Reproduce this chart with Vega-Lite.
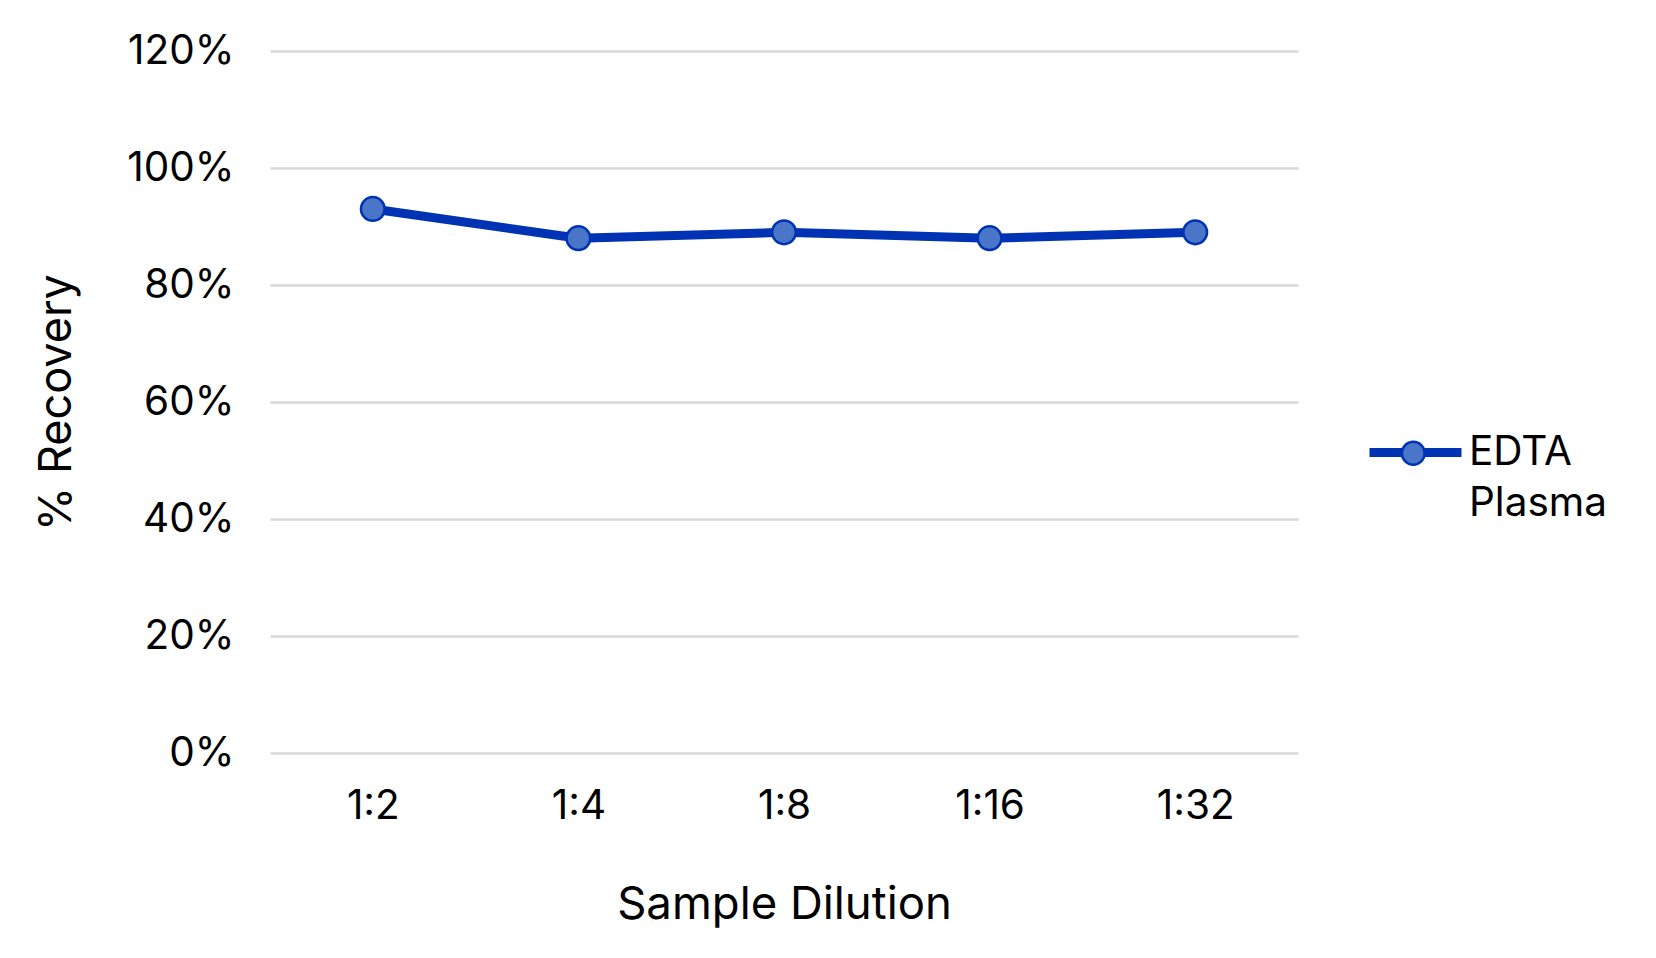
{
  "$schema": "https://vega.github.io/schema/vega-lite/v6.json",
  "width": 1028,
  "height": 702,
  "autosize": {"type": "none"},
  "padding": {"left": 270, "top": 51, "right": 358, "bottom": 205},
  "background": "white",
  "config": {
    "font": "Inter",
    "view": {"stroke": null},
    "axis": {"labelFont": "Inter", "titleFont": "Inter", "labelColor": "#000000", "titleColor": "#000000", "titleFontWeight": "normal"}
  },
  "data": {
    "values": [
      {"dilution": "1:2", "recovery": 0.93, "series": "EDTA Plasma"},
      {"dilution": "1:4", "recovery": 0.88, "series": "EDTA Plasma"},
      {"dilution": "1:8", "recovery": 0.89, "series": "EDTA Plasma"},
      {"dilution": "1:16", "recovery": 0.88, "series": "EDTA Plasma"},
      {"dilution": "1:32", "recovery": 0.89, "series": "EDTA Plasma"}
    ]
  },
  "encoding": {
    "x": {
      "field": "dilution", "type": "ordinal", "sort": null,
      "scale": {"type": "point", "padding": 0.5},
      "axis": {
        "title": "Sample Dilution", "labelAngle": 0, "domain": false, "ticks": false, "grid": false,
        "labelFontSize": 40.5, "labelPadding": 53, "labelBaseline": "middle",
        "titleFontSize": 45.5, "titleX": 514, "titleY": 151, "titleBaseline": "middle", "titleAlign": "center"
      }
    },
    "y": {
      "field": "recovery", "type": "quantitative",
      "scale": {"domain": [0, 1.2]},
      "axis": {
        "title": "% Recovery", "format": ".0%", "values": [0, 0.2, 0.4, 0.6, 0.8, 1.0, 1.2],
        "domain": false, "ticks": false, "gridColor": "#d9d9d9", "gridWidth": 2.5,
        "labelFontSize": 40.5, "labelPadding": 36,
        "titleFontSize": 45, "titleX": -214, "titleY": 351, "titleAngle": -90, "titleBaseline": "middle", "titleAlign": "center"
      }
    }
  },
  "layer": [
    {
      "mark": {"type": "line", "strokeWidth": 9, "strokeJoin": "round", "strokeCap": "round"},
      "encoding": {
        "stroke": {
          "field": "series", "type": "nominal",
          "scale": {"range": ["#0033b4"]},
          "legend": {
            "orient": "none", "legendX": 1095, "legendY": 351, "padding": 0, "title": null,
            "symbolType": "stroke", "symbolStrokeWidth": 9, "symbolSize": 8464,
            "labelExpr": "split(datum.label, ' ')[0]", "labelFont": "Inter", "labelFontSize": 40.5, "labelColor": "#000000",
            "labelOffset": 3, "labelLimit": 400, "zindex": 0
          }
        }
      }
    },
    {
      "mark": {"type": "point", "filled": true, "size": 560, "stroke": "#0033b4", "strokeWidth": 2.5, "opacity": 1},
      "encoding": {
        "fill": {
          "field": "series", "type": "nominal",
          "scale": {"range": ["#4a76c9"]},
          "legend": {
            "orient": "none", "legendX": 1123, "legendY": 382, "padding": 0, "title": null,
            "symbolType": "circle", "symbolSize": 520, "symbolStrokeColor": "#0033b4", "symbolStrokeWidth": 2.5, "symbolOpacity": 1,
            "labelExpr": "''", "labelFontSize": 40.5, "zindex": 1
          }
        },
        "shape": {
          "field": "series", "type": "nominal",
          "scale": {"domain": ["EDTA Plasma"], "range": ["circle"]},
          "legend": {
            "orient": "none", "legendX": 1095, "legendY": 402, "padding": 0, "title": null,
            "symbolSize": 8464, "symbolStrokeWidth": 9, "symbolOpacity": 0, "symbolFillColor": "transparent", "symbolStrokeColor": "transparent",
            "labelExpr": "split(datum.label, ' ')[1]", "labelFont": "Inter", "labelFontSize": 40.5, "labelColor": "#000000",
            "labelOffset": 3, "labelLimit": 400, "zindex": 0
          }
        }
      }
    }
  ]
}
